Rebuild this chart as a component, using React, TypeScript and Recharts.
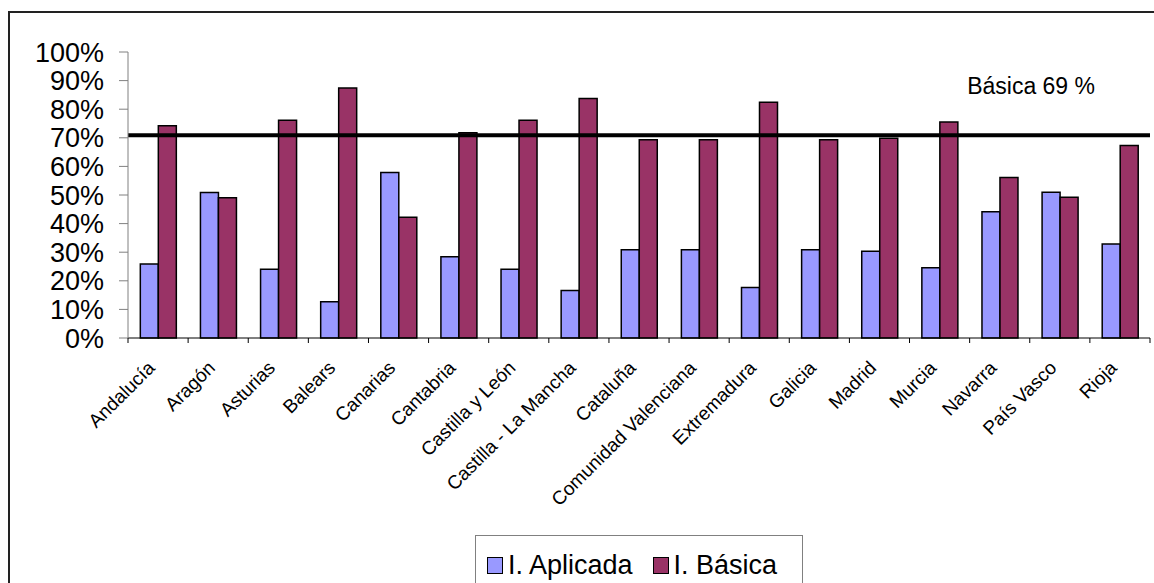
import { Bar, BarChart, Legend, ReferenceLine, XAxis, YAxis } from "recharts";

const regions = [
  "Andalucía",
  "Aragón",
  "Asturias",
  "Balears",
  "Canarias",
  "Cantabria",
  "Castilla y León",
  "Castilla - La Mancha",
  "Cataluña",
  "Comunidad Valenciana",
  "Extremadura",
  "Galicia",
  "Madrid",
  "Murcia",
  "Navarra",
  "País Vasco",
  "Rioja",
];
const aplicada = [25.9, 50.9, 24.0, 12.7, 57.9, 28.4, 24.0, 16.6, 30.9, 30.9, 17.7, 30.9, 30.3, 24.6, 44.1, 51.0, 32.9];
const basica = [74.2, 49.0, 76.1, 87.4, 42.2, 71.8, 76.1, 83.7, 69.3, 69.3, 82.4, 69.3, 69.8, 75.5, 56.1, 49.2, 67.3];
const yTicks = [0, 10, 20, 30, 40, 50, 60, 70, 80, 90, 100];
const basicaLine = 70.9;
const basicaLabel = "Básica 69 %";

const seriesNames = { aplicada: "I. Aplicada", basica: "I. Básica" };
const colors = { aplicada: "#9999FF", basica: "#993366" };

const data = regions.map((region, i) => ({
  region,
  aplicada: aplicada[i],
  basica: basica[i],
}));

const font = '"Liberation Sans", Arial, sans-serif';

function RegionTick(props: any) {
  const { x, y, payload, index, visibleTicksCount, width } = props;
  const half = payload?.offset || width / visibleTicksCount / 2;
  const last = index === visibleTicksCount - 1;
  const tx = x - 2;
  const ty = y + 31;
  return (
    <g>
      <line x1={x - half} x2={x - half} y1={y} y2={y + 5} stroke="#000" />
      {last && <line x1={x + half} x2={x + half} y1={y} y2={y + 5} stroke="#000" />}
      <text
        x={tx}
        y={ty}
        transform={`rotate(-45, ${tx}, ${ty})`}
        textAnchor="end"
        fontFamily={font}
        fontSize={19}
        fill="#000"
      >
        {payload.value}
      </text>
    </g>
  );
}

function LegendBox() {
  const items = [
    { name: seriesNames.aplicada, color: colors.aplicada },
    { name: seriesNames.basica, color: colors.basica },
  ];
  return (
    <div
      style={{
        display: "flex",
        alignItems: "center",
        border: "1px solid #808080",
        background: "#fff",
        height: 60,
        width: 328,
        padding: "0 0 0 11px",
        boxSizing: "border-box",
        fontFamily: font,
        fontSize: 27,
        color: "#000",
        whiteSpace: "nowrap",
      }}
    >
      {items.map((it, i) => (
        <span key={it.name} style={{ display: "flex", alignItems: "center", marginRight: i === 0 ? 20 : 0 }}>
          <span
            style={{
              display: "inline-block",
              width: 16,
              height: 17,
              boxSizing: "border-box",
              background: it.color,
              border: "1.5px solid #000",
              marginRight: 5,
            }}
          />
          {it.name}
        </span>
      ))}
    </div>
  );
}

function LineLabel(props: any) {
  const { viewBox } = props;
  return (
    <text
      x={viewBox.x + viewBox.width - 55}
      y={viewBox.y - 41}
      textAnchor="end"
      fontFamily={font}
      fontSize={23}
      fill="#000"
    >
      {basicaLabel}
    </text>
  );
}

export default function App() {
  return (
    <>
      <style>{`html, body { margin: 0; overflow: hidden; background: #fff; }`}</style>
      <div
        style={{
          position: "absolute",
          left: 8,
          top: 11,
          width: 1146,
          height: 572,
          borderLeft: "2px solid #222",
          borderTop: "2px solid #222",
          overflow: "hidden",
          background: "#fff",
        }}
      >
        <BarChart
          width={1144}
          height={570}
          data={data}
          margin={{ top: 39, right: 4, bottom: 0, left: 0 }}
          barCategoryGap="20.5%"
          barGap={0}
        >
          <XAxis
            dataKey="region"
            interval={0}
            height={245}
            tickLine={false}
            tickSize={0}
            tickMargin={0}
            stroke="#000"
            tick={<RegionTick />}
          />
          <YAxis
            width={118}
            domain={[0, 100]}
            ticks={yTicks}
            interval={0}
            tickSize={9}
            tickMargin={15}
            stroke="#808080"
            tickFormatter={(v: number) => `${v}%`}
            tick={{ fontFamily: font, fontSize: 27, fill: "#000" }}
          />
          <Legend
            layout="horizontal"
            verticalAlign="middle"
            align="center"
            wrapperStyle={{ top: 522, left: 465, width: "auto", height: "auto" }}
            content={<LegendBox />}
          />
          <Bar
            dataKey="aplicada"
            name={seriesNames.aplicada}
            fill={colors.aplicada}
            stroke="#000"
            strokeWidth={1.5}
            isAnimationActive={false}
          />
          <Bar
            dataKey="basica"
            name={seriesNames.basica}
            fill={colors.basica}
            stroke="#000"
            strokeWidth={1.5}
            isAnimationActive={false}
          />
          <ReferenceLine y={basicaLine} stroke="#000" strokeWidth={4} label={<LineLabel />} />
        </BarChart>
      </div>
    </>
  );
}
